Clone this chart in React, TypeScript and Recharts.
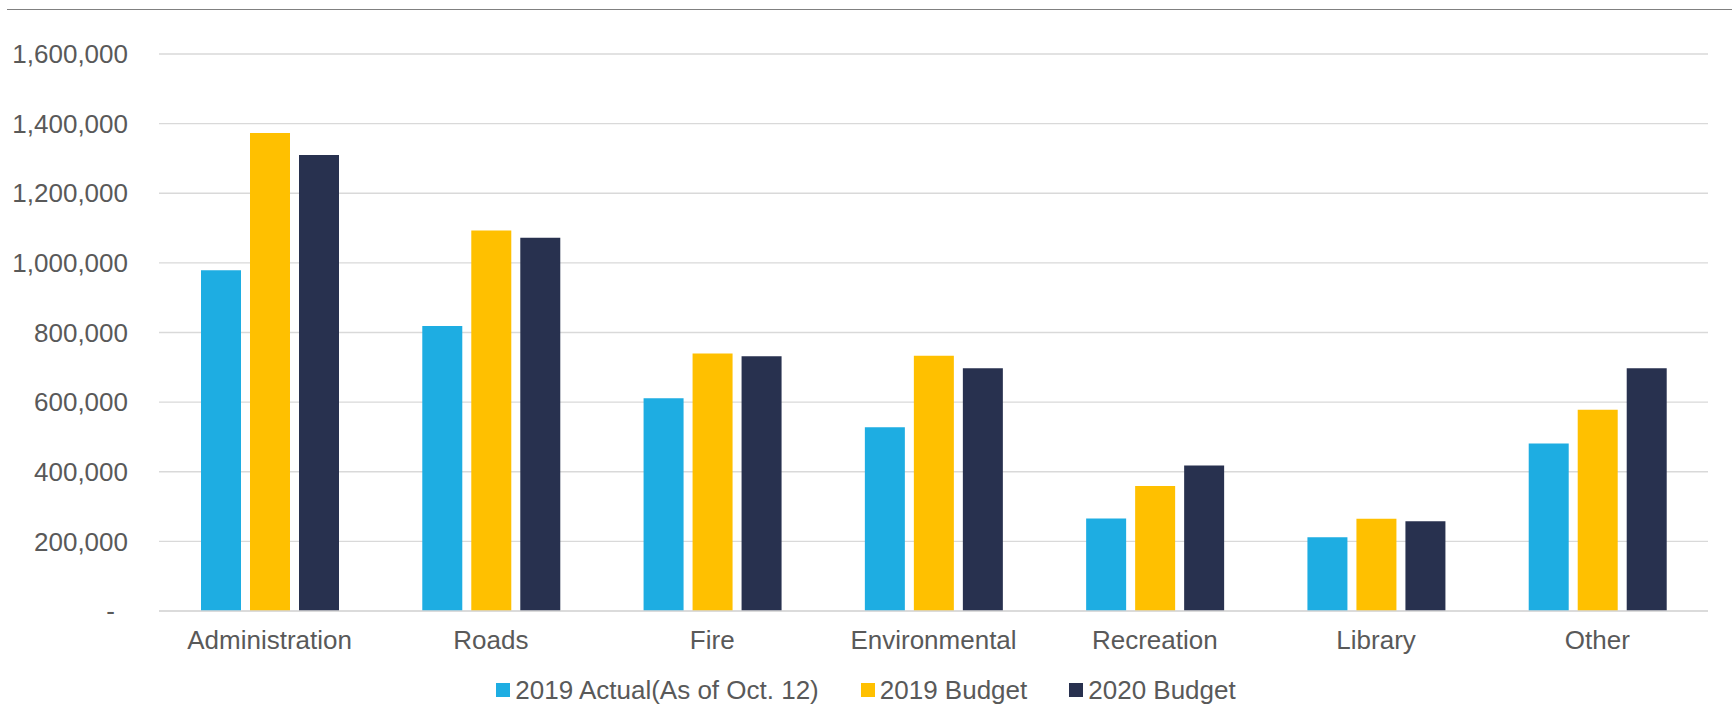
import { BarChart, Bar, XAxis, YAxis, CartesianGrid, Legend } from 'recharts'

const categories = ['Administration', 'Roads', 'Fire', 'Environmental', 'Recreation', 'Library', 'Other']
const actual2019 = [979000, 819000, 611000, 528000, 266000, 212000, 481000]
const budget2019 = [1373000, 1093000, 740000, 733000, 359000, 265000, 578000]
const budget2020 = [1310000, 1072000, 732000, 697000, 418000, 258000, 697000]
const yTicks = [0, 200000, 400000, 600000, 800000, 1000000, 1200000, 1400000, 1600000]

const seriesNames = ['2019 Actual(As of Oct. 12)', '2019 Budget', '2020 Budget']
const seriesColors = ['#1EADE2', '#FFC000', '#28314F']

const font = '"Liberation Sans", Arial, sans-serif'
const textColor = '#595959'

const chartData = categories.map((name, i) => ({
    name,
    actual2019: actual2019[i],
    budget2019: budget2019[i],
    budget2020: budget2020[i],
}))

function YTick({ x, y, payload }: any) {
    const zero = payload.value === 0
    return (
        <text
            x={zero ? x - 13 : x}
            y={y}
            dy="0.355em"
            textAnchor="end"
            fill={textColor}
            fontSize={26}
            fontFamily={font}
        >
            {zero ? '-' : Number(payload.value).toLocaleString('en-US')}
        </text>
    )
}

function LegendContent() {
    return (
        <div style={{ display: 'flex', justifyContent: 'center', alignItems: 'center', height: 30, fontFamily: font, fontSize: 26, color: textColor }}>
            {seriesNames.map((name, i) => (
                <div key={name} style={{ display: 'flex', alignItems: 'center', marginLeft: i === 0 ? 0 : 42 }}>
                    <span style={{ display: 'inline-block', width: 14, height: 14, background: seriesColors[i], marginRight: 5 }} />
                    <span style={{ lineHeight: '30px' }}>{name}</span>
                </div>
            ))}
        </div>
    )
}

export default function App() {
    return (
        <div style={{ position: 'absolute', left: 0, top: 0, width: 1732, height: 707, background: '#fff' }}>
            <div style={{ position: 'absolute', left: 7, right: 0, top: 9, height: 1, background: '#808080' }} />
            <BarChart
                width={1732}
                height={707}
                data={chartData}
                margin={{ top: 54, right: 24, bottom: 2, left: 0 }}
                barSize={40}
                barGap={9}
            >
                <CartesianGrid vertical={false} stroke="#D9D9D9" strokeWidth={1.3} />
                <XAxis
                    dataKey="name"
                    height={64}
                    tickLine={false}
                    tickSize={0}
                    tickMargin={20}
                    axisLine={{ stroke: '#D9D9D9', strokeWidth: 1.5 }}
                    tick={{ fill: textColor, fontSize: 26, fontFamily: font }}
                    interval={0}
                />
                <YAxis
                    width={159}
                    domain={[0, 1600000]}
                    ticks={yTicks}
                    axisLine={false}
                    tickLine={false}
                    tickSize={0}
                    tickMargin={31}
                    tick={<YTick />}
                    interval={0}
                />
                <Legend
                    verticalAlign="bottom"
                    content={<LegendContent />}
                    wrapperStyle={{ left: 0, width: 1732, height: 30, bottom: 2 }}
                />
                <Bar dataKey="actual2019" name={seriesNames[0]} fill={seriesColors[0]} isAnimationActive={false} />
                <Bar dataKey="budget2019" name={seriesNames[1]} fill={seriesColors[1]} isAnimationActive={false} />
                <Bar dataKey="budget2020" name={seriesNames[2]} fill={seriesColors[2]} isAnimationActive={false} />
            </BarChart>
        </div>
    )
}
